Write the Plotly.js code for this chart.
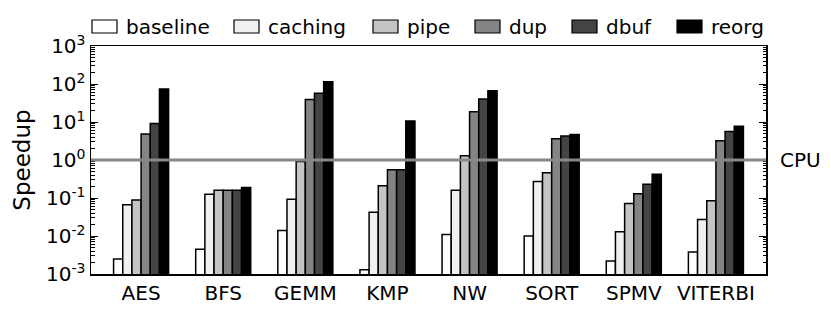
<!DOCTYPE html>
<html>
<head>
<meta charset="utf-8">
<script src="https://cdn.plot.ly/plotly-3.0.1.min.js"></script>
<style>html,body{margin:0;padding:0;background:#fff;}#chart{width:831px;height:311px;}</style>
</head>
<body>
<div id="chart"></div>
<script>
const categories = ["AES", "BFS", "GEMM", "KMP", "NW", "SORT", "SPMV", "VITERBI"];
const seriesNames = ["baseline", "caching", "pipe", "dup", "dbuf", "reorg"];
const baseline = [0.0025, 0.0045, 0.014, 0.0013, 0.011, 0.010, 0.0022, 0.0038];
const caching  = [0.066, 0.125, 0.093, 0.042, 0.16, 0.27, 0.013, 0.027];
const pipe     = [0.089, 0.16, 0.92, 0.21, 1.3, 0.46, 0.072, 0.085];
const dup      = [4.8, 0.16, 39, 0.55, 18.7, 3.6, 0.13, 3.2];
const dbuf     = [9.2, 0.16, 57, 0.55, 40, 4.3, 0.23, 5.6];
const reorg    = [74, 0.19, 115, 10.6, 66, 4.7, 0.42, 7.7];
const yTickExponents = [-3, -2, -1, 0, 1, 2, 3];
const cpuLevel = 1;
const cpuLabel = "CPU";

const seriesValues = [baseline, caching, pipe, dup, dbuf, reorg];
const colors = ["#ffffff", "#f0f0f0", "#c4c4c4", "#848484", "#444444", "#000000"];

const FONT = "DejaVu Sans, sans-serif";

const traces = seriesNames.map((name, i) => ({
  type: "bar",
  name: name,
  x: categories,
  y: seriesValues[i],
  marker: {color: colors[i], line: {color: "#000", width: 1.5}},
  showlegend: false,
  hoverinfo: "x+y+name"
}));

// custom legend (boxes + labels) in paper coordinates
const legendStarts = [92, 234, 373, 475, 572, 677];
const plotL = 91, plotR = 766, plotT = 46, plotB = 274;
const pw = plotR - plotL, ph = plotB - plotT;
const shapes = [{
  type: "line", xref: "paper", x0: 0, x1: 1, yref: "y", y0: cpuLevel, y1: cpuLevel,
  line: {color: "#888888", width: 3}, layer: "above"
}];
const annotations = [{
  xref: "paper", x: (778 - plotL) / pw, xanchor: "left",
  yref: "y", y: Math.log10(cpuLevel), yanchor: "middle",
  text: cpuLabel, showarrow: false, font: {family: FONT, size: 20, color: "#000"}
}];
seriesNames.forEach((name, i) => {
  const x0 = legendStarts[i];
  shapes.push({
    type: "rect", xref: "paper", yref: "paper",
    x0: (x0 - plotL) / pw, x1: (x0 + 25 - plotL) / pw,
    y0: (plotB - 33) / ph, y1: (plotB - 20) / ph,
    fillcolor: colors[i], line: {color: "#000", width: 1.2}
  });
  annotations.push({
    xref: "paper", yref: "paper",
    x: (x0 + 32 - plotL) / pw, xanchor: "left",
    y: (plotB - 26.5) / ph, yanchor: "middle",
    text: name, showarrow: false,
    font: {family: FONT, size: 20, color: "#000"}
  });
});

const layout = {
  width: 831, height: 311,
  margin: {l: plotL, r: 831 - plotR, t: plotT, b: 311 - plotB, pad: 0},
  paper_bgcolor: "#fff", plot_bgcolor: "#fff",
  font: {family: FONT, size: 20, color: "#000"},
  barmode: "group", bargap: 0.33, bargroupgap: 0,
  showlegend: false,
  xaxis: {
    type: "category", range: [-0.61, 7.61],
    showline: true, linecolor: "#000", linewidth: 1.5, mirror: true,
    ticks: "", showgrid: false, zeroline: false,
    tickfont: {family: FONT, size: 20}
  },
  yaxis: {
    type: "log", range: [-3, 3],
    tickmode: "array",
    tickvals: yTickExponents.map(e => Math.pow(10, e)),
    ticktext: yTickExponents.map(e => "10<sup>" + e + "</sup>"),
    showline: true, linecolor: "#000", linewidth: 1.5, mirror: "ticks",
    ticks: "inside", ticklen: 7, tickwidth: 1, tickcolor: "#000",
    minor: {ticks: "inside", ticklen: 3.5, tickwidth: 1, tickcolor: "#000", dtick: "D1", showgrid: false},
    showgrid: false, zeroline: false,
    tickfont: {family: FONT, size: 20},
    title: {text: "Speedup", font: {family: FONT, size: 23}, standoff: 9}
  },
  shapes: shapes,
  annotations: annotations
};

Plotly.newPlot("chart", traces, layout, {displayModeBar: false, staticPlot: true});
</script>
</body>
</html>
